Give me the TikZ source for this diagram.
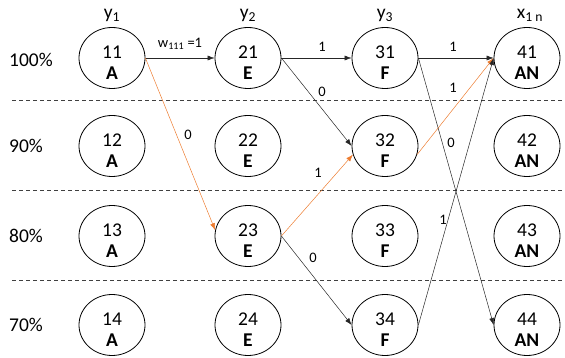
\documentclass[tikz,border=0pt]{standalone}
\usepackage{fontspec}
\setmainfont{Carlito}
\usetikzlibrary{shapes.geometric}
\usetikzlibrary{arrows.meta}
\definecolor{orangeline}{RGB}{237,125,49}

\begin{document}
\begin{tikzpicture}[x=1pt,y=-1pt,
st/.style={ellipse, draw, line width=.8pt, minimum width=66pt, minimum height=61pt, inner sep=0pt},
txt/.style={align=center, font=\fontsize{19.5}{21}\selectfont, yshift=-5pt, inner sep=0pt},
hd/.style={font=\fontsize{19.5}{21}\selectfont, inner sep=0pt},
lbl/.style={font=\fontsize{14.5}{16}\selectfont, inner sep=0pt},
conn/.style={-{Latex[length=7pt,width=5pt]}, line width=.5pt, draw=black!85},
hot/.style={-{Latex[length=7pt,width=5pt]}, line width=.5pt, draw=orangeline},
sep/.style={dash pattern=on 4pt off 3pt, line width=.7pt, draw=black!75}]
\useasboundingbox (0,0) rectangle (565,358);
\draw[sep] (12,100) -- (565,100);
\draw[sep] (12,190) -- (565,190);
\draw[sep] (12,280) -- (565,280);
\node[hd, anchor=west] (r100) at (9,60) {100\%};
\node[hd, anchor=west] (r90) at (9,146) {90\%};
\node[hd, anchor=west] (r80) at (9,236) {80\%};
\node[hd, anchor=west] (r70) at (9,325) {70\%};
\node[hd] (y1) at (112,15) {y\textsubscript{1}};
\node[hd] (y2) at (248,15) {y\textsubscript{2}};
\node[hd] (y3) at (385,15) {y\textsubscript{3}};
\node[hd] (x1n) at (530,15) {x\textsubscript{1 n}};
\node[st, label={[txt]center:11\\\textbf{A}}] (n11) at (112,58) {};
\node[st, label={[txt]center:12\\\textbf{A}}] (n12) at (112,146) {};
\node[st, label={[txt]center:13\\\textbf{A}}] (n13) at (112,236) {};
\node[st, label={[txt]center:14\\\textbf{A}}] (n14) at (112,325) {};
\node[st, label={[txt]center:21\\\textbf{E}}] (n21) at (248,58) {};
\node[st, label={[txt]center:22\\\textbf{E}}] (n22) at (248,146) {};
\node[st, label={[txt]center:23\\\textbf{E}}] (n23) at (248,236) {};
\node[st, label={[txt]center:24\\\textbf{E}}] (n24) at (248,325) {};
\node[st, label={[txt]center:31\\\textbf{F}}] (n31) at (385,58) {};
\node[st, label={[txt]center:32\\\textbf{F}}] (n32) at (385,146) {};
\node[st, label={[txt]center:33\\\textbf{F}}] (n33) at (385,236) {};
\node[st, label={[txt]center:34\\\textbf{F}}] (n34) at (385,325) {};
\node[st, label={[txt]center:41\\\textbf{AN}}] (n41) at (527,58) {};
\node[st, label={[txt]center:42\\\textbf{AN}}] (n42) at (527,146) {};
\node[st, label={[txt]center:43\\\textbf{AN}}] (n43) at (527,236) {};
\node[st, label={[txt]center:44\\\textbf{AN}}] (n44) at (527,325) {};
\draw[conn] (n11.east) -- (n21.west);
\draw[hot] (n11.east) -- (n23.170);
\draw[conn] (n21.east) -- (n31.west);
\draw[conn] (n21.east) -- (n32.west);
\draw[hot] (n23.east) -- (n32.195);
\draw[conn] (n23.east) -- (n34.west);
\draw[conn] (n31.east) -- (n41.west);
\draw[hot] (n32.345) -- (n41.west);
\draw[conn] (n31.east) -- (n44.west);
\draw[conn] (n34.east) -- (n41.west);
\node[lbl] (w111) at (180,44) {w\textsubscript{111} =1};
\node[lbl] (l1123) at (188,135) {0};
\node[lbl] (l2131) at (322,47) {1};
\node[lbl] (l2132) at (322,92) {0};
\node[lbl] (l2332) at (318,173) {1};
\node[lbl] (l2334) at (313,258) {0};
\node[lbl] (l3141) at (453,47) {1};
\node[lbl] (l3241) at (453,88) {1};
\node[lbl] (l3144) at (451,143) {0};
\node[lbl] (l3441) at (443,220) {1};
\end{tikzpicture}
\end{document}
